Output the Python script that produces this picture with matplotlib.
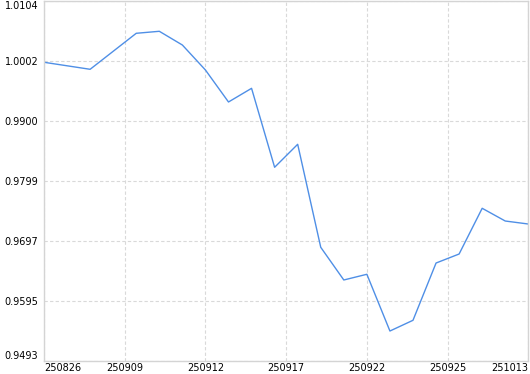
import matplotlib
matplotlib.use('Agg')
import matplotlib.pyplot as plt

# values (x = slot index along the category axis)
x_pos = [0, 2, 4, 5, 6, 7, 8, 9, 10, 11, 12, 13, 14, 15, 16, 17, 18, 19, 20, 21]
values = [1.00005, 0.99886, 1.00497, 1.00531, 1.00298, 0.99874, 0.99331, 0.99563,
          0.98223, 0.98613, 0.96865, 0.96310, 0.96407, 0.95444, 0.95626, 0.96598,
          0.96751, 0.97527, 0.97311, 0.97260]

tick_pos = [0, 3.5, 7, 10.5, 14, 17.5, 21]
tick_labels = ['250826', '250909', '250912', '250917', '250922', '250925', '251013']

y_min, y_max = 0.9493, 1.0104
y_labels = ['0.9493', '0.9595', '0.9697', '0.9799', '0.9900', '1.0002', '1.0104']
y_ticks = [y_min + i * (y_max - y_min) / 6 for i in range(7)]

fig = plt.figure(figsize=(5.30, 3.74), dpi=100)
ax = fig.add_axes([44 / 530, (374 - 361.3) / 374, (528.3 - 44) / 530, (361.3 - 1.3) / 374])

ax.plot(x_pos, values, color='#4f8fe6', linewidth=1.0)

ax.set_xlim(0, 21)
ax.set_ylim(y_min, y_max)

ax.set_yticks(y_ticks)
ax.set_yticklabels(y_labels)
yl = ax.get_yticklabels()
yl[0].set_verticalalignment('bottom')
yl[-1].set_verticalalignment('top')

ax.set_xticks(tick_pos)
ax.set_xticklabels(tick_labels)
xl = ax.get_xticklabels()
xl[0].set_horizontalalignment('left')
xl[-1].set_horizontalalignment('right')

ax.tick_params(axis='both', length=0, labelsize=7, colors='black')
ax.tick_params(axis='x', pad=1.5)
ax.tick_params(axis='y', pad=4)
ax.grid(True, color='#d9d9d9', linestyle=(0, (3, 2)), linewidth=0.8)
for s in ax.spines.values():
    s.set_color('#d4d4d4')
    s.set_linewidth(1.0)

fig.savefig('out.png', dpi=100)
